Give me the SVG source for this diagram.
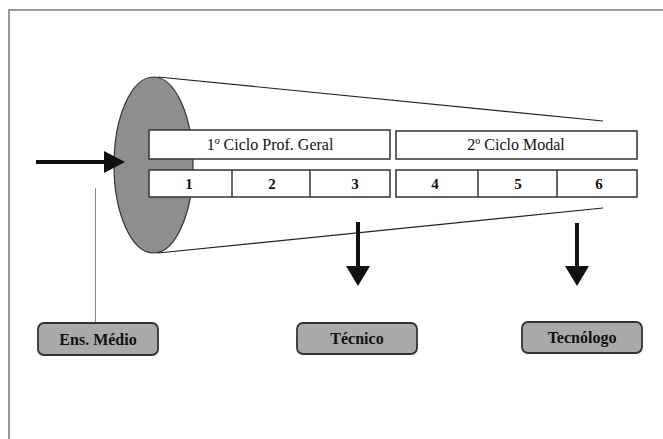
<svg xmlns="http://www.w3.org/2000/svg" width="663" height="439" viewBox="0 0 663 439">
<style>
.frame{fill:none;stroke:#9a9a9a;stroke-width:2}
.cone{fill:none;stroke:#222;stroke-width:1.2}
.box{fill:#fff;stroke:#333;stroke-width:1.5}
.node{fill:#a9a9a9;stroke:#333;stroke-width:1.8}
.t{font-family:"Liberation Serif","Times New Roman",serif;font-size:16px;fill:#111;text-anchor:middle}
.n{font-size:15px;font-weight:bold}
.b{font-weight:bold;font-size:16px}
.arrow{stroke:#111;stroke-width:4;fill:none}
.head{fill:#111}
</style>
<rect width="663" height="439" fill="#fff"/>
<path class="frame" d="M9,440 V10 H664"/>
<g id="cone">
<ellipse cx="153.5" cy="165" rx="39.5" ry="88" fill="#8e8e8e" stroke="#333" stroke-width="1.2"/>
<line class="cone" x1="158" y1="77" x2="603" y2="121"/>
<line class="cone" x1="158" y1="253" x2="603" y2="208"/>
</g>
<g id="ciclo1">
<rect class="box" x="149" y="130" width="241" height="29"/>
<text class="t" x="270" y="150">1º Ciclo Prof. Geral</text>
</g>
<g id="ciclo2">
<rect class="box" x="396" y="131" width="241" height="28"/>
<text class="t" x="516" y="150">2º Ciclo Modal</text>
</g>
<g id="etapas1">
<rect class="box" x="149" y="170" width="241" height="27"/>
<line x1="232" y1="170" x2="232" y2="197" stroke="#333" stroke-width="1.5"/>
<line x1="310" y1="170" x2="310" y2="197" stroke="#333" stroke-width="1.5"/>
<text class="t n" x="189" y="189">1</text>
<text class="t n" x="272" y="189">2</text>
<text class="t n" x="355" y="189">3</text>
</g>
<g id="etapas2">
<rect class="box" x="396" y="170" width="241" height="27"/>
<line x1="478" y1="170" x2="478" y2="197" stroke="#333" stroke-width="1.5"/>
<line x1="557" y1="170" x2="557" y2="197" stroke="#333" stroke-width="1.5"/>
<text class="t n" x="435" y="189">4</text>
<text class="t n" x="518" y="189">5</text>
<text class="t n" x="599" y="189">6</text>
</g>
<g id="connectors">
<line class="arrow" x1="36" y1="162" x2="106" y2="162"/>
<polygon class="head" points="104,151 125,162 104,173"/>
<line x1="95.5" y1="188" x2="95.5" y2="323" stroke="#888" stroke-width="1"/>
<line class="arrow" x1="358" y1="222" x2="358" y2="268"/>
<polygon class="head" points="346,266 370,266 358,286"/>
<line class="arrow" x1="577" y1="223" x2="577" y2="268"/>
<polygon class="head" points="565,266 589,266 577,286"/>
</g>
<g id="ens-medio">
<rect class="node" x="38" y="323" width="120" height="32" rx="6"/>
<text class="t b" x="98" y="345">Ens. Médio</text>
</g>
<g id="tecnico">
<rect class="node" x="297" y="323" width="120" height="31" rx="6"/>
<text class="t b" x="357" y="344">Técnico</text>
</g>
<g id="tecnologo">
<rect class="node" x="522" y="322" width="120" height="31" rx="6"/>
<text class="t b" x="582" y="343">Tecnólogo</text>
</g>
</svg>
